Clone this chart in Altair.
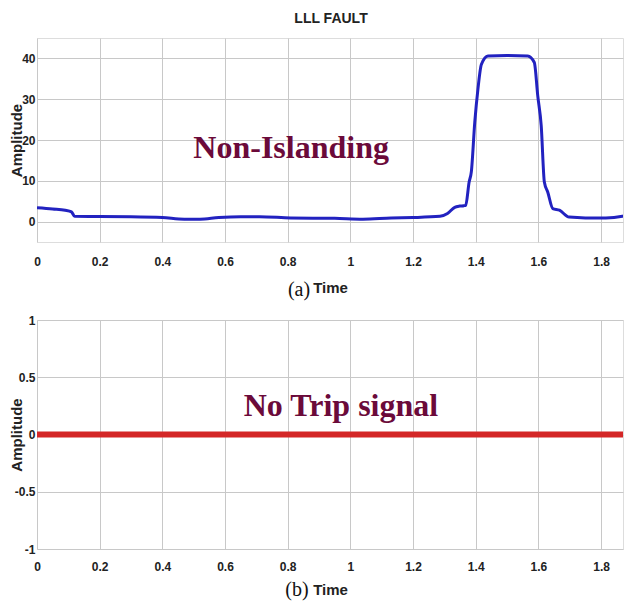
import altair as alt
import pandas as pd

# ---- data ----
t_a = [0.0, 0.05, 0.09, 0.11, 0.12, 0.2, 0.3, 0.4, 0.47, 0.52, 0.58, 0.65, 0.71, 0.81, 0.95, 1.04, 1.13,
       1.2, 1.286, 1.31, 1.333, 1.349, 1.362, 1.368, 1.379, 1.386, 1.397, 1.407, 1.418, 1.439,
       1.5, 1.566, 1.587, 1.598, 1.609, 1.619, 1.63, 1.646, 1.667, 1.698, 1.75, 1.815, 1.868, 1.893]
amp_a = [3.4, 3.1, 2.8, 2.4, 1.3, 1.25, 1.2, 1.0, 0.6, 0.6, 1.0, 1.2, 1.2, 0.9, 0.8, 0.6, 0.9,
         1.0, 1.3, 2.0, 3.5, 3.8, 3.9, 4.0, 9.7, 12.2, 24.4, 32.4, 38.5, 40.6,
         40.7, 40.6, 39.0, 30.8, 23.5, 9.7, 7.2, 3.2, 2.8, 1.1, 0.9, 0.9, 1.3, 2.2]
t_b = [0.0, 1.893]
amp_b = [0.0, 0.0]

x_ticks = [0, 0.2, 0.4, 0.6, 0.8, 1, 1.2, 1.4, 1.6, 1.8]
y_ticks_a = [0, 10, 20, 30, 40]
y_ticks_b = [-1, -0.5, 0, 0.5, 1]
x_max = 1.87

note_a = {"t": [0.811], "v": [15.6], "label": ["Non-Islanding"]}
note_b = {"t": [0.97], "v": [0.165], "label": ["No Trip signal"]}

SANS = "Liberation Sans, Arial, sans-serif"
SERIF = "Liberation Serif, Times New Roman, serif"
MAROON = "#6b0a3a"

df_a = pd.DataFrame({"t": t_a, "v": amp_a})
df_b = pd.DataFrame({"t": t_b, "v": amp_b})


def axis_x(title, lab_pad, title_pad):
    return alt.Axis(values=x_ticks, title=title, grid=True, gridColor="#c8c8c8", gridWidth=1,
                    ticks=False, domain=False, labelFont=SANS, labelFontSize=12,
                    labelFontWeight="bold", labelColor="#222", labelPadding=lab_pad,
                    labelExpr="'' + datum.value", labelFlush=False,
                    titleFont=SANS, titleFontSize=15, titleFontWeight="bold",
                    titleColor="#222", titlePadding=title_pad)


def axis_y(vals, title="Amplitude"):
    return alt.Axis(values=vals, title=title, grid=True, gridColor="#c8c8c8", gridWidth=1,
                    ticks=False, domain=False, labelFont=SANS, labelFontSize=12,
                    labelFontWeight="bold", labelColor="#222", labelPadding=2,
                    labelExpr="'' + datum.value", minExtent=15, maxExtent=15,
                    titleFont=SANS, titleFontSize=15,
                    titleFontWeight="bold", titleColor="#222", titlePadding=-2)


# ---- panel (a) ----
xa = alt.X("t:Q", scale=alt.Scale(domain=[0, x_max], nice=False, zero=False), axis=axis_x("Time", 14, 13))
ya = alt.Y("v:Q", scale=alt.Scale(domain=[-5, 45], nice=False), axis=axis_y(y_ticks_a))

line_a = alt.Chart(df_a).mark_line(color="#2222c0", strokeWidth=3, interpolate="monotone",
                                   clip=True).encode(x=xa, y=ya)
text_a = alt.Chart(pd.DataFrame(note_a)).mark_text(
    font=SERIF, fontSize=32, fontWeight="bold", color=MAROON, align="center", baseline="alphabetic"
).encode(x="t:Q", y="v:Q", text="label:N")
lab_a = alt.Chart(pd.DataFrame({"s": ["(a)"]})).mark_text(
    font=SERIF, fontSize=20, color="#111", align="center", baseline="middle"
).encode(x=alt.value(262), y=alt.value(252), text="s:N")
title_a = alt.Chart(pd.DataFrame({"s": ["LLL FAULT"]})).mark_text(
    font=SANS, fontSize=14, fontWeight="bold", color="#222", align="center", baseline="middle"
).encode(x=alt.value(294), y=alt.value(-19), text="s:N")

panel_a = alt.layer(line_a, text_a, lab_a, title_a).properties(width=586, height=204)

# ---- panel (b) ----
xb = alt.X("t:Q", scale=alt.Scale(domain=[0, x_max], nice=False, zero=False), axis=axis_x("Time", 12, 10))
yb = alt.Y("v:Q", scale=alt.Scale(domain=[-1, 1], nice=False), axis=axis_y(y_ticks_b))

line_b = alt.Chart(df_b).mark_line(color="#d42626", strokeWidth=6, clip=True).encode(x=xb, y=yb)
text_b = alt.Chart(pd.DataFrame(note_b)).mark_text(
    font=SERIF, fontSize=32, fontWeight="bold", color=MAROON, align="center", baseline="alphabetic"
).encode(x="t:Q", y="v:Q", text="label:N")
lab_b = alt.Chart(pd.DataFrame({"s": ["(b)"]})).mark_text(
    font=SERIF, fontSize=20, color="#111", align="center", baseline="middle"
).encode(x=alt.value(260), y=alt.value(270), text="s:N")

panel_b = alt.layer(line_b, text_b, lab_b).properties(width=586, height=229)

chart = alt.vconcat(panel_a, panel_b, spacing=12).resolve_scale(
    x="independent", y="independent"
).properties(
    padding={"left": 0, "top": 3, "right": 0, "bottom": 0}
).configure_view(stroke="#222", strokeWidth=1.5).configure(background="white")

chart.save("out.html", embed_options={"renderer": "svg", "actions": False})
